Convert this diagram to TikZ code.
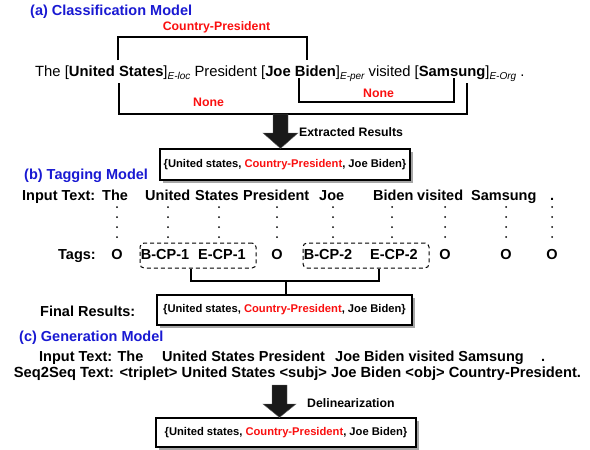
\documentclass[tikz,border=0pt]{standalone}
\usepackage{fontspec}
\setmainfont{Liberation Sans}
\usetikzlibrary{shadows}
\definecolor{ttlblue}{RGB}{25,25,210}
\definecolor{relred}{RGB}{250,15,15}
\newcommand\myfs[1]{\fontsize{#1}{#1}\selectfont}
\newcommand\entsub[1]{\raisebox{-3.5pt}{\myfs{10}\itshape #1}}
\newcommand\restext{\{United states, \textcolor{relred}{Country-President}, Joe Biden\}}
\begin{document}
\begin{tikzpicture}[x=1pt,y=-1pt,
 title/.style={anchor=base west, inner sep=0, font=\myfs{14.5}\bfseries, text=ttlblue},
 txt/.style={anchor=base west, inner sep=0, text depth=0pt, font=\myfs{14.5}\bfseries},
 tag/.style={anchor=base, inner sep=0, font=\myfs{14.5}\bfseries},
 lbl/.style={anchor=base west, inner sep=0, font=\myfs{12.3}\bfseries},
 redlbl/.style={anchor=base, inner sep=0, font=\myfs{12.3}\bfseries, text=relred},
 resbox/.style={draw, line width=1.1pt, fill=white, inner sep=0, font=\myfs{11.2}\bfseries,
   drop shadow={shadow xshift=3pt, shadow yshift=-3pt, fill=black!35, opacity=1}},
 bracket/.style={line width=1.2pt},
 tagbracket/.style={line width=2pt},
 dotcol/.style={line width=2pt, line cap=round, dash pattern=on 0pt off 10pt},
 dbox/.style={draw, rounded corners=4pt, line width=1pt, dash pattern=on 4pt off 3pt},
 bigarrow/.style={fill=black!90, draw=black!60, line width=0.4pt}
]
\useasboundingbox (0,0) rectangle (590,450);

% ---------- (a) ----------
\node[title] (ta) at (30,15) {(a) Classification Model};
\node[redlbl] (cp) at (216.5,30.5) {Country-President};
\node[anchor=base west, inner sep=0, font=\myfs{14.8}] (sent) at (35,76)
  {The [\textbf{United States}]\entsub{E-loc} President [\textbf{Joe Biden}]\entsub{E-per} visited [\textbf{Samsung}]\entsub{E-Org} .};
\coordinate (us1) at (118,60);
\coordinate (jb1) at (307,60);
\draw[bracket] (us1) |- (212,37) -| (jb1);
\coordinate (us2) at (119,83);
\coordinate (sm2) at (467,83);
\draw[bracket] (us2) |- (300,114) -| (sm2);
\coordinate (jb3) at (299,78);
\coordinate (sm3) at (454,78);
\draw[bracket] (jb3) |- (380,102) -| (sm3);
\node[redlbl] (n1) at (208.5,106) {None};
\node[redlbl] (n2) at (378.5,97) {None};

\node[resbox, minimum width=250pt, minimum height=31pt] (r1) at (285,164.5) {\restext};
\fill[bigarrow] (273,114) -- (288,114) -- (288,133) -- (298,133) -- (r1.north -| 280.5,0) -- (263,133) -- (273,133) -- cycle;
\node[lbl] (er) at (299,136) {Extracted Results};

% ---------- (b) ----------
\node[title] (tb) at (24,179) {(b) Tagging Model};
\node[txt] (wIT) at (22,200) {Input Text:};
\node[txt] (wThe) at (102,200) {The};
\node[txt] (wUnited) at (145,200) {United};
\node[txt] (wStates) at (195,200) {States};
\node[txt] (wPres) at (243,200) {President};
\node[txt] (wJoe) at (319,200) {Joe};
\node[txt] (wBiden) at (373,200) {Biden};
\node[txt] (wVisited) at (417,200) {visited};
\node[txt] (wSamsung) at (471,200) {Samsung};
\node[txt] (wDot) at (550,200) {.};

\node[anchor=base west, inner sep=0, font=\myfs{14.5}\bfseries] (tTags) at (58,259) {Tags:};
\node[tag] (tO1) at (117,259) {O};
\node[tag] (tB1) at (165,259) {B-CP-1};
\node[tag] (tE1) at (222,259) {E-CP-1};
\node[tag] (tO2) at (277,259) {O};
\node[tag] (tB2) at (328,259) {B-CP-2};
\node[tag] (tE2) at (394,259) {E-CP-2};
\node[tag] (tO3) at (445,259) {O};
\node[tag] (tO4) at (506,259) {O};
\node[tag] (tO5) at (552,259) {O};

\foreach \w/\t/\x in {wThe/tO1/117, wUnited/tB1/168, wStates/tE1/219, wPres/tO2/277, wJoe/tB2/333, wBiden/tE2/392, wVisited/tO3/445, wSamsung/tO4/506, wDot/tO5/552}
  \draw[dotcol] (\x,207) -- (\x,238);

\node[dbox, minimum width=116pt, minimum height=25pt] (g1) at (198,255.5) {};
\node[dbox, minimum width=126pt, minimum height=25pt] (g2) at (366,255.5) {};

\node[resbox, minimum width=255pt, minimum height=30pt] (r2) at (284.5,310) {\restext};
\coordinate (jn) at (286,281);
\draw[tagbracket] ([xshift=-7pt]g1.south) |- (jn) -| ([xshift=13pt]g2.south);
\draw[tagbracket] (jn) -- (r2.north -| jn);
\node[anchor=base west, inner sep=0, font=\myfs{14.5}\bfseries] (fr) at (40,316) {Final Results:};

% ---------- (c) ----------
\node[title] (tc) at (19,341) {(c) Generation Model};
\node[txt] (c1) at (39,361) {Input Text: The};
\node[txt] (c2) at (162,361) {United States President};
\node[txt] (c3) at (335,361) {Joe Biden visited Samsung};
\node[txt] (c4) at (541,361) {.};
\node[anchor=base, inner sep=0, font=\myfs{14.7}\bfseries] (seq) at (297.5,377)
  {Seq2Seq Text: <triplet> United States <subj> Joe Biden <obj> Country-President.};

\node[resbox, minimum width=260pt, minimum height=29pt] (r3) at (286,432.5) {\restext};
\fill[bigarrow] (272,385) -- (287,385) -- (287,404) -- (296,404) -- (r3.north -| 279.5,0) -- (263,404) -- (272,404) -- cycle;
\node[lbl] (dl) at (307,407) {Delinearization};
\end{tikzpicture}
\end{document}
